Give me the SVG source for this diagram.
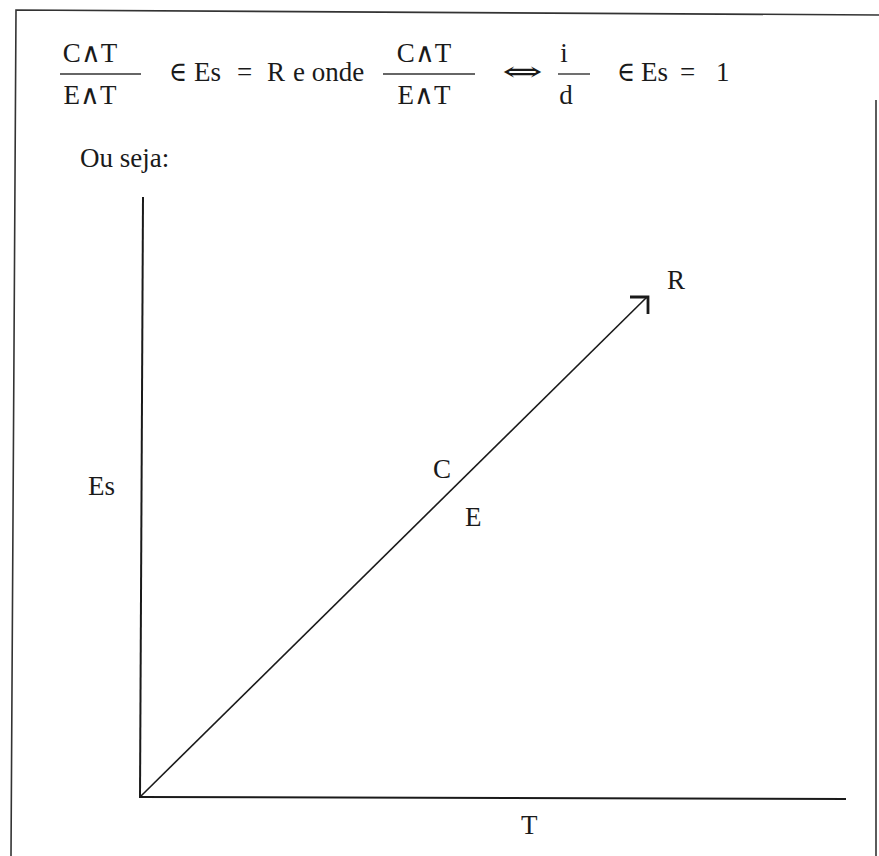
<svg xmlns="http://www.w3.org/2000/svg" width="879" height="856" viewBox="0 0 879 856">
<style>
text{font-family:"Liberation Serif","Times New Roman",serif;fill:#1a1a1a}
.f{font-size:27px}
.l{font-size:27px}
.sym{font-family:"DejaVu Serif","Liberation Serif",serif;font-size:28px}
.bar{stroke:#333;stroke-width:1.4}
.frame{stroke:#333;stroke-width:1.6;fill:none}
.axis{stroke:#1a1a1a;stroke-width:2;fill:none}
</style>
<rect width="879" height="856" fill="#fff"/>
<g id="frame">
<polyline class="frame" points="11,856 16,10 879,15"/>
<line class="frame" x1="876" y1="100" x2="876" y2="856"/>
</g>
<g id="formula">
<text class="f" x="90" y="62" text-anchor="middle">C∧T</text>
<line class="bar" x1="60" y1="74" x2="141" y2="74"/>
<text class="f" x="90" y="104" text-anchor="middle">E∧T</text>
<text class="sym" x="169" y="81" textLength="18" lengthAdjust="spacingAndGlyphs">∈</text>
<text class="f" x="194" y="81">Es</text>
<text class="f" x="237" y="81">=</text>
<text class="f" x="267" y="81">R</text>
<text class="f" x="293" y="81">e onde</text>
<text class="f" x="424" y="62" text-anchor="middle">C∧T</text>
<line class="bar" x1="383" y1="74" x2="475" y2="74"/>
<text class="f" x="424" y="104" text-anchor="middle">E∧T</text>
<text class="sym" x="502" y="81" font-size="30" textLength="41" lengthAdjust="spacingAndGlyphs">⇔</text>
<text class="f" x="564" y="62" text-anchor="middle">i</text>
<line class="bar" x1="558" y1="74" x2="590" y2="74"/>
<text class="f" x="566" y="104" text-anchor="middle">d</text>
<text class="sym" x="617" y="81" textLength="18" lengthAdjust="spacingAndGlyphs">∈</text>
<text class="f" x="641" y="81">Es</text>
<text class="f" x="680" y="81">=</text>
<text class="f" x="716" y="81">1</text>
</g>
<text class="l" x="80" y="167">Ou seja:</text>
<g id="axes">
<line class="axis" x1="143" y1="197" x2="140" y2="797"/>
<line class="axis" x1="139" y1="797" x2="846" y2="799"/>
</g>
<g id="connectors">
<line x1="141" y1="796" x2="647" y2="297" stroke="#1a1a1a" stroke-width="1.6"/>
<polyline points="630,297 648,297 648,314" fill="none" stroke="#1a1a1a" stroke-width="2.8"/>
</g>
<g id="node-R"><text class="l" x="667" y="289">R</text></g>
<g id="node-C"><text class="l" x="433" y="478">C</text></g>
<g id="node-E"><text class="l" x="465" y="526">E</text></g>
<g id="label-Es"><text class="l" x="88" y="495">Es</text></g>
<g id="label-T"><text class="l" x="521" y="834">T</text></g>
</svg>
